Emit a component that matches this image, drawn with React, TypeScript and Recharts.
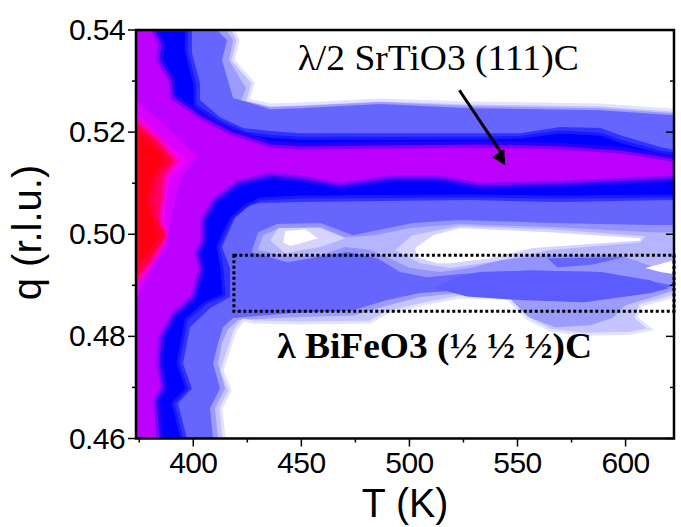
import { Area, ComposedChart, ReferenceArea, ReferenceDot, ReferenceLine, XAxis, YAxis } from "recharts";

type Pt = number[];

// contour outlines, as [T (K), q (r.l.u.)]
const plotArea: Pt[] = [[373, 0.54], [620.2, 0.54], [620.2, 0.46], [373, 0.46]];

const topHoleA: Pt[] = [[410.2, 0.54], [414.8, 0.538], [412.5, 0.5341], [417.6, 0.5267], [434.6, 0.5245], [448.4, 0.5247], [485.1, 0.5255], [526.5, 0.5247], [586.3, 0.5243], [620.2, 0.5233], [620.2, 0.54]];
const topHoleB: Pt[] = [[414.4, 0.54], [417.6, 0.538], [415.7, 0.5341], [423.6, 0.5286], [421.3, 0.5263], [434.6, 0.5249], [448.4, 0.5251], [485.1, 0.5259], [526.5, 0.5251], [586.3, 0.5247], [620.2, 0.5237], [620.2, 0.54]];
const topHoleWhite: Pt[] = [[417.6, 0.54], [419.9, 0.538], [417.6, 0.5341], [426.8, 0.5296], [424.5, 0.5263], [434.6, 0.5253], [448.4, 0.5255], [485.1, 0.5263], [526.5, 0.5257], [586.3, 0.5253], [620.2, 0.5243], [620.2, 0.54]];

const lowHoleA: Pt[] = [[408.4, 0.46], [407, 0.4659], [411.6, 0.4698], [408.4, 0.4747], [410.7, 0.4787], [413, 0.4818], [417.6, 0.4836], [442.4, 0.4845], [472.7, 0.4851], [488.4, 0.4871], [503.5, 0.4885], [521.9, 0.489], [540.3, 0.4875], [578.4, 0.4867], [609.2, 0.4885], [620.2, 0.49], [620.2, 0.46]];
const lowHoleB: Pt[] = [[410.7, 0.46], [409.3, 0.4659], [413.9, 0.4698], [410.7, 0.4747], [412.5, 0.4787], [415.3, 0.4814], [419.9, 0.4832], [442.4, 0.4837], [472.7, 0.4841], [487.4, 0.4859], [503.5, 0.4877], [521.9, 0.4885], [540.3, 0.4871], [554.1, 0.4836], [565.6, 0.4818], [581.7, 0.4822], [591.8, 0.4836], [597.7, 0.4861], [609.2, 0.4875], [620.2, 0.489], [620.2, 0.46]];
const lowHoleWhite: Pt[] = [[413.4, 0.46], [412, 0.4659], [416.2, 0.4694], [412.5, 0.4733], [418.5, 0.4812], [422.2, 0.4832], [426.8, 0.4828], [448.4, 0.4826], [480.5, 0.4828], [488.4, 0.4847], [506.7, 0.4865], [521.9, 0.4877], [543.5, 0.4875], [552.7, 0.4836], [563.3, 0.4812], [578.4, 0.4804], [600, 0.4806], [609.2, 0.4814], [602.8, 0.4836], [604.6, 0.4861], [613.8, 0.4871], [620.2, 0.4879], [620.2, 0.46]];

const midHoleA: Pt[] = [[426.3, 0.4969], [429.1, 0.5004], [437.8, 0.502], [457.6, 0.5022], [472.7, 0.4998], [483.8, 0.5008], [500.3, 0.5022], [521.9, 0.5028], [563.3, 0.5022], [609.2, 0.5018], [620.2, 0.5018], [620.2, 0.49], [609.2, 0.4908], [586.3, 0.4926], [555.5, 0.4929], [532.5, 0.4926], [517.3, 0.492], [506.7, 0.4916], [494.3, 0.4926], [483.8, 0.4953], [470, 0.4965], [442.4, 0.4945], [426.3, 0.4965]];
const midHoleB: Pt[] = [[429.1, 0.4973], [431.4, 0.4998], [439.2, 0.5012], [457.6, 0.5014], [469.1, 0.4994], [482.8, 0.4998], [498.9, 0.5012], [521.9, 0.502], [563.3, 0.5014], [609.2, 0.5004], [620.2, 0.5004], [620.2, 0.492], [604.6, 0.4945], [595.4, 0.4959], [563.3, 0.4959], [540.3, 0.4949], [526.5, 0.4934], [512.7, 0.4926], [498.9, 0.4934], [487.4, 0.4957], [480.5, 0.4969], [469.1, 0.4975], [457.6, 0.4959], [443.8, 0.4955], [429.1, 0.4969]];
const midHoleLeftC: Pt[] = [[434.6, 0.4988], [438.3, 0.5012], [457.6, 0.5012], [469.1, 0.4992], [457.6, 0.4975], [441.5, 0.4963]];
const midHoleRightC: Pt[] = [[492, 0.4969], [499.8, 0.4998], [521.9, 0.5016], [563.3, 0.501], [606.9, 0.4996], [604.6, 0.4984], [563.3, 0.4969], [535.7, 0.4945], [517.3, 0.4934], [503.5, 0.4943]];
const midWhiteLeft: Pt[] = [[440.6, 0.4984], [441.5, 0.5006], [450.7, 0.501], [456.6, 0.4992], [447.5, 0.4981], [443.8, 0.4977]];
const midWhiteRight: Pt[] = [[501.2, 0.4973], [509.5, 0.4998], [521.9, 0.5012], [563.3, 0.5004], [604.6, 0.4992], [604.6, 0.4988], [555.5, 0.4973], [535.7, 0.4953], [517.3, 0.4943], [511.3, 0.4943], [502.1, 0.4955]];
const midWhiteWedge: Pt[] = [[606.9, 0.4934], [620.2, 0.4949], [620.2, 0.4922], [613.8, 0.4926]];
const upperLobe: Pt[] = [[561.9, 0.4953], [596.8, 0.4955], [583, 0.4941], [566.5, 0.4935]];
const bifeoBand: Pt[] = [[510, 0.4895], [520, 0.4915], [531.1, 0.4926], [554.1, 0.4929], [586.3, 0.4926], [609.2, 0.491], [617.5, 0.4894], [609.2, 0.4885], [578.4, 0.4867], [549.5, 0.4871], [525, 0.4878]];

const blueOuter: Pt[] = [[373, 0.54], [398.7, 0.54], [398.7, 0.5355], [402.4, 0.5296], [402.4, 0.5263], [411.6, 0.5229], [422.2, 0.5208], [434.6, 0.5202], [448.4, 0.5198], [531.1, 0.5198], [549.5, 0.5198], [567.9, 0.521], [586.3, 0.5208], [595.4, 0.5194], [613.8, 0.5171], [620.2, 0.5165], [620.2, 0.5067], [567.9, 0.5063], [526.5, 0.5067], [448.4, 0.5063], [430, 0.5061], [425.4, 0.5057], [418.5, 0.5033], [415.3, 0.5002], [412.5, 0.4975], [416.2, 0.4933], [416.2, 0.4877], [407, 0.4855], [397.8, 0.4818], [394.6, 0.4747], [398.7, 0.4698], [392.3, 0.4669], [396.4, 0.46], [373, 0.46]];
const blueCore: Pt[] = [[373, 0.54], [396.4, 0.54], [396, 0.5361], [400.1, 0.5292], [400.1, 0.5253], [411.6, 0.522], [423.1, 0.5198], [434.6, 0.5192], [448.4, 0.5188], [531.1, 0.5188], [549.5, 0.519], [567.9, 0.52], [586.3, 0.5196], [595.4, 0.5182], [613.8, 0.5161], [620.2, 0.5157], [620.2, 0.5075], [567.9, 0.5073], [526.5, 0.5075], [448.4, 0.5073], [430, 0.5069], [423.1, 0.5055], [417.1, 0.5032], [413.4, 0.5002], [410.7, 0.4975], [412.5, 0.4933], [413.4, 0.4881], [404.7, 0.4865], [396, 0.4832], [392.3, 0.4747], [396.4, 0.4698], [390, 0.4669], [394.1, 0.46], [373, 0.46]];
const purple: Pt[] = [[373, 0.54], [380.8, 0.54], [384, 0.5371], [383.1, 0.5341], [388.6, 0.5302], [389.5, 0.5267], [402.4, 0.5229], [416.2, 0.5198], [434.6, 0.5173], [448.4, 0.5169], [531.1, 0.5173], [567.9, 0.5169], [595.4, 0.5161], [620.2, 0.5145], [620.2, 0.5112], [567.9, 0.5102], [531.1, 0.5098], [512.7, 0.5112], [489.7, 0.5112], [466.8, 0.5098], [448.4, 0.5112], [434.6, 0.5118], [419.4, 0.5102], [408.4, 0.5067], [403.3, 0.5028], [403.3, 0.4988], [400.6, 0.4963], [402.4, 0.4933], [398.7, 0.4877], [390, 0.4845], [384, 0.4798], [383.1, 0.4747], [384.9, 0.47], [381.7, 0.4675], [383.1, 0.46], [373, 0.46]];
const violet: Pt[] = [[373, 0.5263], [388.6, 0.5204], [401.5, 0.5151], [394.1, 0.5112], [390.9, 0.5067], [388.2, 0.5008], [387.2, 0.4979], [379.4, 0.4929], [373, 0.4871]];
const magenta: Pt[] = [[373, 0.5239], [384, 0.5188], [396.9, 0.5145], [388.6, 0.5112], [386.3, 0.5053], [386.3, 0.4988], [383.1, 0.4965], [377.1, 0.4929], [373, 0.49]];
const pink: Pt[] = [[373, 0.5224], [382.7, 0.519], [391.8, 0.5145], [386.3, 0.5112], [385.4, 0.5067], [384, 0.5033], [386.3, 0.5002], [385.4, 0.4982], [380.8, 0.4949], [373, 0.4904]];
const red: Pt[] = [[373, 0.5208], [381.7, 0.5175], [387.7, 0.5145], [381.7, 0.5112], [379.4, 0.5067], [382.7, 0.5018], [385.4, 0.4998], [380.8, 0.4969], [373, 0.4926]];

const arrowHead: Pt[] = [[542.6, 0.5135], [536.6, 0.5151], [539.4, 0.5159], [542.1, 0.5167]];

const tTicks = [375, 400, 425, 450, 475, 500, 525, 550, 575, 600];
const tLabelled = [400, 450, 500, 550, 600];
const qTicks = [0.46, 0.47, 0.48, 0.49, 0.5, 0.51, 0.52, 0.53, 0.54];
const qLabelled = [0.46, 0.48, 0.5, 0.52, 0.54];

const layers: { pts: Pt[]; fill: string; stroke?: string; width?: number }[] = [
  { pts: plotArea, fill: "#6666ff" },
  { pts: topHoleA, fill: "#9c9cff" },
  { pts: topHoleB, fill: "#c0c0ff" },
  { pts: topHoleWhite, fill: "#ffffff", stroke: "#e2e2ff", width: 3 },
  { pts: lowHoleA, fill: "#9c9cff" },
  { pts: lowHoleB, fill: "#c4c4ff" },
  { pts: lowHoleWhite, fill: "#ffffff", stroke: "#e2e2ff", width: 3 },
  { pts: midHoleA, fill: "#9494ff" },
  { pts: midHoleB, fill: "#b4b4ff" },
  { pts: midHoleLeftC, fill: "#d4d4ff" },
  { pts: midHoleRightC, fill: "#d4d4ff" },
  { pts: upperLobe, fill: "#6666ff" },
  { pts: midWhiteLeft, fill: "#ffffff" },
  { pts: midWhiteRight, fill: "#ffffff" },
  { pts: midWhiteWedge, fill: "#ffffff" },
  { pts: bifeoBand, fill: "#5c5cff" },
  { pts: blueOuter, fill: "#3333ff" },
  { pts: blueCore, fill: "#0000ff", stroke: "#1a1aff", width: 3 },
  { pts: purple, fill: "#3000f0", stroke: "#2a00f2", width: 10 },
  { pts: purple, fill: "#bb00ff", stroke: "#8000ff", width: 3 },
  { pts: violet, fill: "#d800ff" },
  { pts: magenta, fill: "#f000ff" },
  { pts: pink, fill: "#ff0060", stroke: "#ff00b0", width: 4 },
  { pts: red, fill: "#ff0010", stroke: "#ff0038", width: 5 },
  { pts: arrowHead, fill: "#000000" },
];

// outlines were read against a rough T scale, this lines them up with the real ticks
const calibrateT = (T: number) => 373.5 + (T - 373) * 1.00741;
const toRows = (pts: Pt[]) => [...pts, pts[0]].map(([T, q]) => ({ T: calibrateT(T), q }));

const font = "'Liberation Sans', Arial, sans-serif";
const serif = "'Liberation Serif', 'Times New Roman', serif";

const BottomTick = ({ x, y, payload }: any) => {
  const major = tLabelled.includes(payload.value);
  return (
    <g>
      <line x1={x} x2={x} y1={y} y2={y + (major ? 8 : 4)} stroke="#000" strokeWidth={1.5} />
      {major && (
        <text x={x} y={y + 34} textAnchor="middle" fontSize={30} letterSpacing={-0.6} fontFamily={font} fill="#000">
          {payload.value}
        </text>
      )}
    </g>
  );
};

const LeftTick = ({ x, y, payload }: any) => {
  const major = qLabelled.includes(payload.value);
  return (
    <g>
      <line x1={x} x2={x - (major ? 8 : 4)} y1={y} y2={y} stroke="#000" strokeWidth={1.5} />
      {major && (
        <text x={x - 11} y={y + 10} textAnchor="end" fontSize={30} letterSpacing={-0.6} fontFamily={font} fill="#000">
          {payload.value.toFixed(2)}
        </text>
      )}
    </g>
  );
};

const RightTick = ({ x, y, payload }: any) => {
  const major = qLabelled.includes(payload.value);
  return <line x1={x} x2={x - (major ? 8 : 4)} y1={y} y2={y} stroke="#000" strokeWidth={1.5} />;
};

const SrTiLabel = ({ cx, cy }: any) => (
  <text x={cx} y={cy} fontSize={36} fontFamily={serif} fill="#000" textLength={281} lengthAdjust="spacingAndGlyphs">
    λ/2 SrTiO3 (111)C
  </text>
);

const BiFeLabel = ({ cx, cy }: any) => (
  <text
    x={cx}
    y={cy}
    fontSize={35}
    fontWeight="bold"
    fontFamily={serif}
    fill="#000"
    textLength={315}
    lengthAdjust="spacingAndGlyphs"
  >
    λ BiFeO3 (½ ½ ½)C
  </text>
);

export default function App() {
  return (
    <div style={{ position: "absolute", left: 0, top: 0 }}>
      <ComposedChart width={681} height={527} margin={{ top: 30, right: 0, bottom: 0, left: 0 }}>
        <XAxis
          dataKey="T"
          type="number"
          domain={[373.5, 622.4]}
          ticks={tTicks}
          allowDataOverflow
          height={88.5}
          tickSize={0}
          tickMargin={0}
          axisLine={false}
          tick={<BottomTick />}
          interval={0}
        />
        <YAxis
          yAxisId="q"
          type="number"
          domain={[0.46, 0.54]}
          ticks={qTicks}
          allowDataOverflow
          width={136}
          tickSize={0}
          tickMargin={0}
          axisLine={false}
          tick={<LeftTick />}
          interval={0}
        />
        <YAxis
          yAxisId="right"
          orientation="right"
          type="number"
          domain={[0.46, 0.54]}
          ticks={qTicks}
          allowDataOverflow
          width={7}
          tickSize={0}
          tickMargin={0}
          axisLine={false}
          tick={<RightTick />}
          interval={0}
        />
        {layers.map((l, i) => (
          <Area
            key={i}
            yAxisId="q"
            data={toRows(l.pts)}
            dataKey="q"
            type="linear"
            baseValue={0.46}
            fill={l.fill}
            fillOpacity={1}
            stroke={l.stroke ?? "none"}
            strokeWidth={l.width ?? 0}
            dot={false}
            activeDot={false}
            isAnimationActive={false}
          />
        ))}
        <ReferenceLine
          yAxisId="q"
          segment={[{ x: 523.1, y: 0.5282 }, { x: 543.2, y: 0.5155 }]}
          stroke="#000"
          strokeWidth={3}
        />
        <ReferenceArea
          yAxisId="q"
          x1={418.8}
          x2={622.4}
          y1={0.4849}
          y2={0.4959}
          fill="none"
          stroke="#000"
          strokeWidth={3}
          strokeDasharray="3 2.5"
        />
        <ReferenceArea
          yAxisId="q"
          x1={373.5}
          x2={622.4}
          y1={0.46}
          y2={0.54}
          fill="none"
          stroke="#000"
          strokeWidth={2.5}
          ifOverflow="visible"
        />
        <ReferenceDot yAxisId="q" x={448.3} y={0.5322} r={0} shape={<SrTiLabel />} />
        <ReferenceDot yAxisId="q" x={438.8} y={0.4757} r={0} shape={<BiFeLabel />} />
        <text transform="translate(405 517) scale(0.96 1)" textAnchor="middle" fontSize={41} fontFamily={font} fill="#000">
          T (K)
        </text>
        <text transform="translate(41 232.5) rotate(-90)" textAnchor="middle" fontSize={40} fontFamily={font} fill="#000">
          q (r.l.u.)
        </text>
      </ComposedChart>
    </div>
  );
}
